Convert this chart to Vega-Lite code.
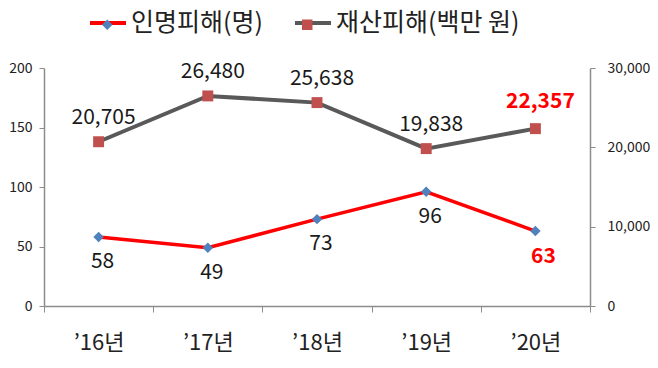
{
  "$schema": "https://vega.github.io/schema/vega-lite/v6.json",
  "width": 546,
  "height": 238,
  "autosize": {"type": "none"},
  "padding": {"left": 44, "top": 68, "right": 68, "bottom": 62},
  "background": "white",
  "config": {
    "view": {"stroke": null},
    "font": "Noto Sans CJK KR",
    "axis": {"grid": false, "domainColor": "#8c8c8c", "tickColor": "#8c8c8c", "labelColor": "#222222", "labelFont": "Noto Sans CJK KR"}
  },
  "data": {
    "values": [
      {"year": "’16년", "casualty": 58, "damage": 20705},
      {"year": "’17년", "casualty": 49, "damage": 26480},
      {"year": "’18년", "casualty": 73, "damage": 25638},
      {"year": "’19년", "casualty": 96, "damage": 19838},
      {"year": "’20년", "casualty": 63, "damage": 22357}
    ]
  },
  "encoding": {
    "x": {
      "field": "year", "type": "nominal", "sort": null,
      "scale": {"paddingInner": 0, "paddingOuter": 0},
      "axis": {"title": null, "labelAngle": 0, "labelFontSize": 22, "labelPadding": 20, "tickBand": "extent", "tickSize": 6, "domainWidth": 1.5}
    }
  },
  "layer": [
    {
      "encoding": {
        "y": {
          "field": "casualty", "type": "quantitative",
          "scale": {"domain": [0, 200], "nice": false, "zero": true},
          "axis": {"orient": "left", "title": null, "values": [0, 50, 100, 150, 200], "labelFontSize": 14, "tickSize": 5, "labelPadding": 7, "domainWidth": 1.5}
        }
      },
      "layer": [
        {
          "mark": {"type": "line", "strokeWidth": 3.5},
          "encoding": {
            "color": {
              "datum": "인명피해(명)",
              "scale": {"domain": ["인명피해(명)", "재산피해(백만 원)"], "range": ["#ff0000", "#595959"]},
              "legend": {
                "orient": "none", "direction": "horizontal", "columns": 2, "legendX": 44, "legendY": -65,
                "title": null, "symbolType": "stroke", "symbolSize": 1296, "symbolStrokeWidth": 4,
                "labelFontSize": 25, "labelOffset": 3, "columnPadding": 24, "labelLimit": 400, "labelColor": "#222222", "labelFont": "Noto Sans CJK KR", "padding": 0
              }
            }
          }
        },
        {
          "mark": {"type": "point", "filled": true, "size": 110, "opacity": 1},
          "encoding": {
            "fill": {
              "datum": "인명피해(명)",
              "scale": {"domain": ["재산피해(백만 원)", "인명피해(명)"], "range": ["#c0504d", "#4f81bd"]},
              "legend": {
                "orient": "none", "direction": "horizontal", "columns": 2, "legendX": 50.75, "legendY": -56,
                "values": ["인명피해(명)", "재산피해(백만 원)"],
                "title": null, "symbolSize": 110, "symbolStrokeWidth": 0, "symbolOpacity": 1,
                "labelFontSize": 25, "labelOffset": 18.75, "columnPadding": 24, "labelLimit": 400, "labelOpacity": 0, "labelFont": "Noto Sans CJK KR", "padding": 0
              }
            },
            "shape": {
              "datum": "인명피해(명)",
              "scale": {"domain": ["재산피해(백만 원)", "인명피해(명)"], "range": ["square", "diamond"]},
              "legend": {
                "orient": "none", "direction": "horizontal", "columns": 2, "legendX": 50.75, "legendY": -56,
                "values": ["인명피해(명)", "재산피해(백만 원)"],
                "title": null, "symbolSize": 110, "symbolStrokeWidth": 0, "symbolOpacity": 1,
                "labelFontSize": 25, "labelOffset": 18.75, "columnPadding": 24, "labelLimit": 400, "labelOpacity": 0, "labelFont": "Noto Sans CJK KR", "padding": 0
              }
            }
          }
        },
        {
          "transform": [{"filter": {"not": {"field": "year", "equal": "’20년"}}}],
          "mark": {"type": "text", "fontSize": 21, "dy": 25, "dx": 4, "color": "#1a1a1a"},
          "encoding": {"text": {"field": "casualty", "type": "quantitative"}}
        },
        {
          "transform": [{"filter": {"field": "year", "equal": "’20년"}}],
          "mark": {"type": "text", "fontSize": 21, "fontWeight": "bold", "dy": 26, "dx": 8, "color": "#ff0000"},
          "encoding": {"text": {"field": "casualty", "type": "quantitative"}}
        }
      ]
    },
    {
      "encoding": {
        "y": {
          "field": "damage", "type": "quantitative",
          "scale": {"domain": [0, 30000], "nice": false, "zero": true},
          "axis": {"orient": "right", "title": null, "values": [0, 10000, 20000, 30000], "labelExpr": "format(datum.value, ',')", "labelFontSize": 14, "tickSize": 5, "labelPadding": 12, "domainWidth": 1.5}
        }
      },
      "layer": [
        {
          "mark": {"type": "line", "strokeWidth": 4},
          "encoding": {"color": {"datum": "재산피해(백만 원)"}}
        },
        {
          "mark": {"type": "point", "filled": true, "size": 120, "opacity": 1},
          "encoding": {
            "fill": {"datum": "재산피해(백만 원)"},
            "shape": {"datum": "재산피해(백만 원)"}
          }
        },
        {
          "transform": [{"filter": {"not": {"field": "year", "equal": "’20년"}}}],
          "mark": {"type": "text", "fontSize": 21, "dy": -24, "dx": 5, "color": "#1a1a1a"},
          "encoding": {"text": {"field": "damage", "type": "quantitative", "format": ","}}
        },
        {
          "transform": [{"filter": {"field": "year", "equal": "’20년"}}],
          "mark": {"type": "text", "fontSize": 21, "fontWeight": "bold", "dy": -27, "dx": 5, "color": "#ff0000"},
          "encoding": {"text": {"field": "damage", "type": "quantitative", "format": ","}}
        }
      ]
    }
  ],
  "resolve": {"scale": {"y": "independent"}}
}
